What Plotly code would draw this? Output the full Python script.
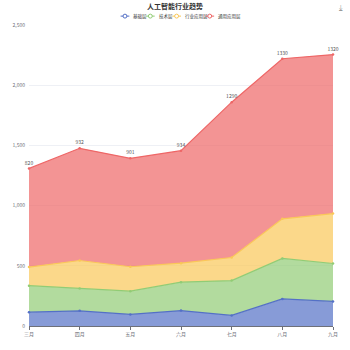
import plotly.graph_objects as go

months = ["三月", "四月", "五月", "六月", "七月", "八月", "九月"]
series_names = ["基础层", "技术层", "行业应用层", "通用应用层"]
base_layer = [115, 126, 96, 128, 88, 225, 204]
tech_layer = [220, 185, 193, 236, 289, 336, 315]
industry_layer = [154, 233, 203, 158, 192, 329, 415]
general_layer = [820, 932, 901, 934, 1290, 1330, 1320]
y_ticks = [0, 500, 1000, 1500, 2000, 2500]

colors = ["#5470c6", "#91cc75", "#fac858", "#ee6666"]
fills = ["rgba(84,112,198,0.7)", "rgba(145,204,117,0.7)",
         "rgba(250,200,88,0.7)", "rgba(238,102,102,0.7)"]

W, H = 350, 350
ML, MR, MT, MB = 23, 15, 25, 20
PW, PH = W - ML - MR, H - MT - MB


def px_x(px):
    return (px - ML) / PW


def px_y(py):
    return (H - MB - py) / PH


fig = go.Figure()
data = [base_layer, tech_layer, industry_layer, general_layer]
for i, (name, vals) in enumerate(zip(series_names, data)):
    is_top = i == 3
    fig.add_trace(go.Scatter(
        x=months, y=vals, name=name, stackgroup="one",
        mode="lines+markers+text" if is_top else "lines+markers",
        text=[str(v) for v in vals] if is_top else None,
        textposition="top center",
        textfont=dict(size=5, color="#555", family="Noto Sans CJK SC"),
        line=dict(color=colors[i], width=1.2),
        marker=dict(size=2.5, color=colors[i]),
        fillcolor=fills[i],
        cliponaxis=False,
        showlegend=False,
    ))

# custom compact legend (ECharts style)
legend_x = [117, 143, 170, 204]
legend_y = 16
shapes = []
annotations = []
for i, name in enumerate(series_names):
    x0 = legend_x[i]
    shapes.append(dict(type="line", xref="paper", yref="paper",
                       x0=px_x(x0), x1=px_x(x0 + 9), y0=px_y(legend_y), y1=px_y(legend_y),
                       line=dict(color=colors[i], width=1)))
    shapes.append(dict(type="circle", xref="paper", yref="paper",
                       x0=px_x(x0 + 2.5), x1=px_x(x0 + 6.5),
                       y0=px_y(legend_y + 2), y1=px_y(legend_y - 2),
                       fillcolor="white", line=dict(color=colors[i], width=1)))
    annotations.append(dict(text=name, xref="paper", yref="paper",
                            x=px_x(x0 + 11), y=px_y(legend_y), xanchor="left",
                            yanchor="middle", showarrow=False,
                            font=dict(size=4.5, color="#333", family="Noto Sans CJK SC")))

annotations.append(dict(text="⤓", xref="paper", yref="paper",
                        x=px_x(343), y=px_y(7), xanchor="center", yanchor="middle",
                        showarrow=False, font=dict(size=8, color="#999", family="DejaVu Sans")))

fig.update_layout(
    width=W, height=H,
    margin=dict(l=ML, r=MR, t=MT, b=MB),
    paper_bgcolor="white", plot_bgcolor="white",
    font=dict(family="Noto Sans CJK SC", size=5, color="#6e7079"),
    title=dict(text="<b>人工智能行业趋势</b>", x=0.5, xanchor="center",
               y=1 - 7 / H, yanchor="middle",
               font=dict(size=7, color="#333", family="Noto Sans CJK SC")),
    showlegend=False,
    shapes=shapes,
    annotations=annotations,
)
fig.update_xaxes(type="category", range=[0, len(months) - 1], showgrid=False,
                 showline=True, linecolor="#6e7079", linewidth=1,
                 ticks="outside", ticklen=3, tickcolor="#6e7079",
                 tickfont=dict(size=5), zeroline=False)
fig.update_yaxes(range=[0, 2500], tickvals=y_ticks, tickformat=",",
                 showgrid=True, gridcolor="#eef0f5", gridwidth=1,
                 zeroline=False, showline=False, tickfont=dict(size=5),
                 ticks="", ticklabelstandoff=3)

fig.write_html("out.html")
